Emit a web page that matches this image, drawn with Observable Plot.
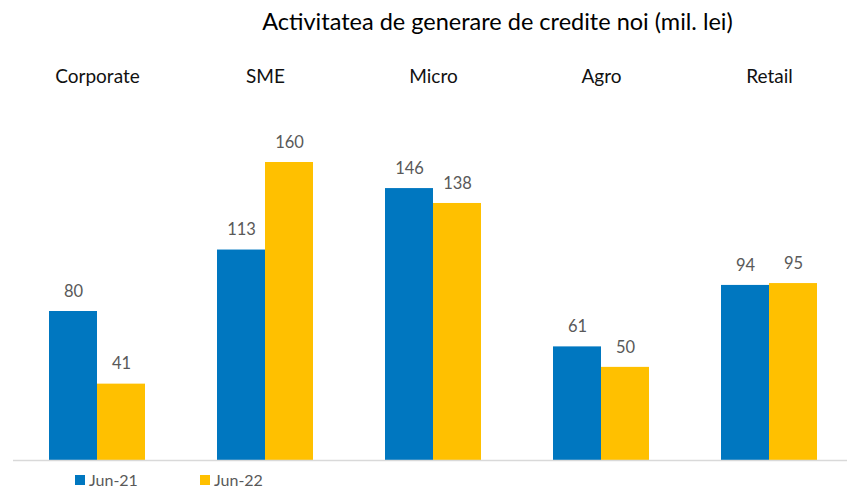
<!DOCTYPE html>
<html><head><meta charset="utf-8">
<script src="https://cdn.jsdelivr.net/npm/d3@7"></script>
<script src="https://cdn.jsdelivr.net/npm/@observablehq/plot@0.6"></script>
<style>
body{margin:0;background:#fff;font-family:Lato,"Open Sans",sans-serif;}
#wrap{position:relative;width:847px;height:491px;overflow:hidden;}
#title{position:absolute;left:0;top:6px;width:847px;text-align:center;padding-left:148px;box-sizing:border-box;font-size:23.5px;line-height:30px;color:#000;}
#legend{position:absolute;left:75px;top:472px;font-size:16px;line-height:16px;color:#595959;display:flex;gap:0;}
.li{display:flex;align-items:center;width:125px;}
.sw{width:10px;height:10px;margin-right:4px;}
</style></head>
<body><div id="wrap"><div id="title">Activitatea de generare de credite noi (mil. lei)</div><div id="chart"></div>
<div id="legend"></div></div>
<script>
const categories = ["Corporate","SME","Micro","Agro","Retail"];
const series = ["Jun-21","Jun-22"];
const jun21 = [80,113,146,61,94];
const jun22 = [41,160,138,50,95];
const colors = ["#0077C0","#FFC000"];

const data = [];
categories.forEach((c,i)=>{
  data.push({cat:c, s:series[0], v:jun21[i]});
  data.push({cat:c, s:series[1], v:jun22[i]});
});

const chart = Plot.plot({
  width: 847, height: 491,
  marginLeft: 12, marginRight: -6, marginTop: 87.5, marginBottom: 31,
  style:{fontFamily:"Lato, 'Open Sans', sans-serif", background:"transparent"},
  fx:{domain:categories, padding:0, axis:null},
  x:{domain:series, paddingInner:0, paddingOuter:0.75, axis:null},
  y:{domain:[0,200], axis:null},
  color:{domain:series, range:colors},
  marks:[
    Plot.barY(data,{fx:"cat", x:"s", y:"v", fill:"s"}),
    Plot.ruleY([0],{stroke:"#d9d9d9", strokeWidth:1.5}),
    Plot.text(data,{fx:"cat", x:"s", y:"v", text:d=>String(d.v), dy:-20, fontSize:16.5, fill:"#595959"}),
    Plot.text(categories,{fx:d=>d, frameAnchor:"top", dy:-19, text:d=>d, fontSize:19, fill:"#111"})
  ]
});
document.getElementById("chart").appendChild(chart);

const leg = document.getElementById("legend");
series.forEach((s,i)=>{
  const d = document.createElement("div"); d.className="li";
  d.innerHTML = `<span class="sw" style="background:${colors[i]}"></span><span>${s}</span>`;
  leg.appendChild(d);
});
</script></body></html>
